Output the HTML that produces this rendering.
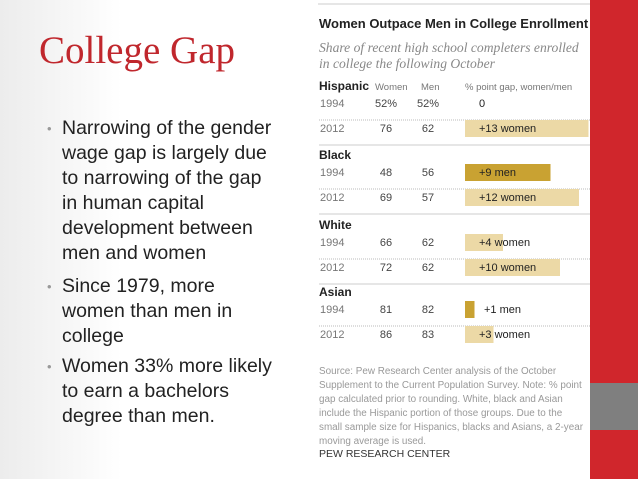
<!DOCTYPE html>
<html><head><meta charset="utf-8"><style>
body{margin:0;width:638px;height:479px;overflow:hidden;background:#fff;font-family:"Liberation Sans",sans-serif;position:relative}
.bg{position:absolute;left:0;top:0;width:305px;height:479px;background:linear-gradient(90deg,#ececec 0%,#fff 40%)}
.title{position:absolute;left:39px;top:28px;font-family:"Liberation Serif",serif;font-size:39px;color:#c0272d;white-space:nowrap}
.b{position:absolute;left:62px;font-size:19.5px;color:#222;line-height:25px;white-space:nowrap}
.b::before{content:"•";position:absolute;left:-15px;color:#999;font-size:13px}
</style></head><body>
<div class="bg"></div>
<div class="title">College Gap</div>
<div class="b" style="top:116px">Narrowing of the gender<br>wage gap is largely due<br>to narrowing of the gap<br>in human capital<br>development between<br>men and women</div>
<div class="b" style="top:274px">Since 1979, more<br>women than men in<br>college</div>
<div class="b" style="top:354px">Women 33% more likely<br>to earn a bachelors<br>degree than men.</div>
<svg id="chart" width="638" height="479" style="position:absolute;left:0;top:0">
<line x1="318" y1="4" x2="590" y2="4" stroke="#ddd" stroke-width="1.5"/>
<text x="319" y="28" font-size="13" font-weight="bold" fill="#222">Women Outpace Men in College Enrollment</text>
<text x="319" y="52" font-size="13.6" font-style="italic" fill="#888" font-family="Liberation Serif">Share of recent high school completers enrolled</text>
<text x="319" y="68" font-size="13.6" font-style="italic" fill="#888" font-family="Liberation Serif">in college the following October</text>
<g id="rows"></g>
<text x="319" y="374" font-size="9.9" fill="#999">Source: Pew Research Center analysis of the October</text>
<text x="319" y="388" font-size="9.9" fill="#999">Supplement to the Current Population Survey. Note: % point</text>
<text x="319" y="402" font-size="9.9" fill="#999">gap calculated prior to rounding. White, black and Asian</text>
<text x="319" y="416" font-size="9.9" fill="#999">include the Hispanic portion of those groups. Due to the</text>
<text x="319" y="430" font-size="9.9" fill="#999">small sample size for Hispanics, blacks and Asians, a 2-year</text>
<text x="319" y="444" font-size="9.9" fill="#999">moving average is used.</text>
<text x="319" y="457" font-size="10.5" fill="#333">PEW RESEARCH CENTER</text>
<rect x="590" y="0" width="48" height="479" fill="#d0262c"/>
<rect x="590" y="383" width="48" height="47" fill="#7f7f7f"/>
</svg>
<script>
const groups=["Hispanic","Black","White","Asian"];
const years=["1994","2012"];
const women=[[52,76],[48,69],[66,72],[81,86]];
const men=[[52,62],[56,57],[62,62],[82,83]];
const gaps=[[0,13],[-9,12],[4,10],[-1,3]];
const ns="http://www.w3.org/2000/svg";
const g=document.getElementById("rows");
const x0=465, pxPer=9.5;
const xs=v=>x0+Math.abs(v)*pxPer;
function t(x,y,s,o){const e=document.createElementNS(ns,"text");e.setAttribute("x",x);e.setAttribute("y",y);e.setAttribute("font-size",o.fs||11);e.setAttribute("fill",o.fill||"#555");if(o.bold)e.setAttribute("font-weight","bold");if(o.anchor)e.setAttribute("text-anchor",o.anchor);e.textContent=s;g.appendChild(e);return e;}
function ln(y,dash){const e=document.createElementNS(ns,"line");e.setAttribute("x1",319);e.setAttribute("x2",590);e.setAttribute("y1",y);e.setAttribute("y2",y);e.setAttribute("stroke",dash?"#bbb":"#ddd");e.setAttribute("stroke-width",dash?1:1.5);if(dash)e.setAttribute("stroke-dasharray","1,1");g.appendChild(e);}
const tops=[90,159,229,296];
groups.forEach((name,i)=>{
 const y0=tops[i];
 const h=t(319,y0,name,{fs:12,bold:true,fill:"#222"});
 
 
 if(i===0){t(375,y0,"Women",{fs:9.5,fill:"#777"});t(421,y0,"Men",{fs:9.5,fill:"#777"});t(465,y0,"% point gap, women/men",{fs:9.5,fill:"#777"});}
 years.forEach((yr,j)=>{
  const y=y0+17+j*25;
  if(gaps[i][j]!==0){
   const r=document.createElementNS(ns,"rect");
   r.setAttribute("x",x0);r.setAttribute("y",y-12);r.setAttribute("width",xs(gaps[i][j])-x0);r.setAttribute("height",17);
   r.setAttribute("fill",gaps[i][j]<0?"#c9a232":"#ecd9a6");
   
   
   g.appendChild(r);
  }
  t(320,y,yr,{fill:"#777"});
  t(386,y,women[i][j]+(i===0&&j===0?"%":""),{anchor:"middle",fill:"#444"});
  t(428,y,men[i][j]+(i===0&&j===0?"%":""),{anchor:"middle",fill:"#444"});
  const g2=gaps[i][j];
  const lab=g2===0?"0":"+"+Math.abs(g2)+(g2<0?" men":" women");
  t(g2===0?479:(g2===-1?x0+19:x0+14),y,lab,{fill:"#222"});
  if(j===0)ln(y+13,true);
 });
 if(i<3)ln(y0+55,false);
});
</script>
</body></html>
